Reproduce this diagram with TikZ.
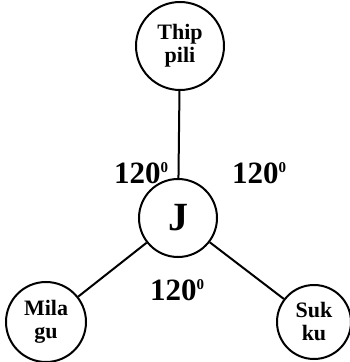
\documentclass[tikz,border=0pt]{standalone}
\usepackage{fontspec}
\setmainfont{Liberation Serif}
\usetikzlibrary{positioning}

\newcommand{\degsup}{\raisebox{11pt}{\fontsize{15}{15}\selectfont 0}}

\begin{document}
\begin{tikzpicture}[x=1pt,y=1pt,line width=2pt,
	roundnode/.style={circle,draw=black,line width=2pt,inner sep=0pt,align=center,
		font=\fontsize{22}{23}\selectfont\bfseries},
	anglelabel/.style={inner sep=0pt,font=\fontsize{31}{32}\selectfont\bfseries}]
			\useasboundingbox (0,0) rectangle (349,362);

			\node[roundnode,minimum size=78pt,font=\fontsize{40}{40}\selectfont\bfseries] (j) at (178,144) {J};
			\node[roundnode,minimum size=88pt,node distance=87pt,above=of j,xshift=2pt]		(thip)		{Thip\\pili};
			\node[roundnode,minimum size=80pt,node distance=51pt,left=of j,yshift=-104pt]		(milagu)	{Mila\\gu};
			\node[roundnode,minimum size=74pt,node distance=58pt,right=of j,yshift=-104pt]		(sukku)		{Suk\\ku};

			\node[anglelabel,xshift=-37pt,yshift=45pt]	(lab1) at (j) {120\degsup};
			\node[anglelabel,xshift=81pt,yshift=45pt]	(lab2) at (j) {120\degsup};
			\node[anglelabel,xshift=-1pt,yshift=-72pt]	(lab3) at (j) {120\degsup};

			\draw (j) -- (thip);
			\draw (j) -- (milagu);
			\draw (j) -- (sukku);
		\end{tikzpicture}
\end{document}
